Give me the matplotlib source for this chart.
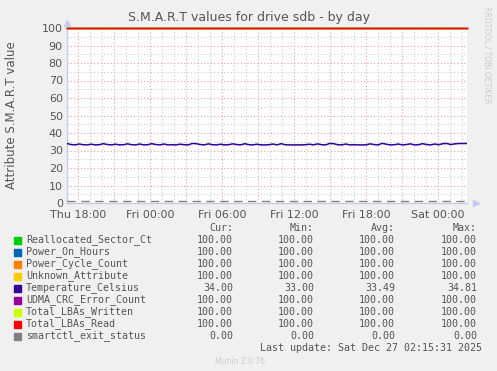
import numpy as np
import matplotlib
matplotlib.use("Agg")
import matplotlib.pyplot as plt

# Series names, colours and legend stats (cur, min, avg, max)
names = ["Reallocated_Sector_Ct", "Power_On_Hours", "Power_Cycle_Count",
         "Unknown_Attribute", "Temperature_Celsius", "UDMA_CRC_Error_Count",
         "Total_LBAs_Written", "Total_LBAs_Read", "smartctl_exit_status"]
colors = ["#00cc00", "#0066b3", "#ff8000", "#ffcc00", "#330099",
          "#990099", "#ccff00", "#ff0000", "#808080"]
cur = [100.00, 100.00, 100.00, 100.00, 34.00, 100.00, 100.00, 100.00, 0.00]
mins = [100.00, 100.00, 100.00, 100.00, 33.00, 100.00, 100.00, 100.00, 0.00]
avgs = [100.00, 100.00, 100.00, 100.00, 33.49, 100.00, 100.00, 100.00, 0.00]
maxs = [100.00, 100.00, 100.00, 100.00, 34.81, 100.00, 100.00, 100.00, 0.00]

# time in hours since Thu 00:00, 20 min steps
t_start = 17.08
t_end = 50.42
temperature = [
    34.0, 33.4, 33.2, 33.7, 33.3, 33.2, 33.6, 33.2, 33.3, 33.9,
    33.4, 33.2, 33.6, 33.2, 33.3, 33.8, 33.3, 33.2, 33.7, 33.2,
    33.3, 33.9, 33.4, 33.2, 33.7, 33.2, 33.3, 33.2, 33.6, 33.3,
    33.2, 34.0, 33.9, 33.4, 33.2, 33.8, 33.3, 33.2, 33.6, 33.2,
    33.3, 33.8, 33.4, 33.2, 33.9, 33.3, 33.2, 33.6, 33.2, 33.2,
    33.3, 33.7, 33.2, 33.9, 33.3, 33.2, 33.2, 33.2, 33.2, 33.3,
    33.6, 33.2, 33.8, 33.3, 33.2, 34.0, 33.9, 33.3, 33.2, 33.7,
    33.2, 33.3, 33.2, 33.2, 33.2, 33.8, 33.4, 33.2, 34.1, 33.6,
    33.2, 33.3, 33.7, 33.2, 33.4, 33.8, 33.2, 33.3, 33.9, 33.4,
    33.2, 33.7, 33.3, 33.9, 34.0, 33.4, 33.8, 34.0, 34.0, 34.0,
]
tick_pos = [18, 24, 30, 36, 42, 48]
tick_labels = ["Thu 18:00", "Fri 00:00", "Fri 06:00", "Fri 12:00", "Fri 18:00", "Sat 00:00"]

W, H = 497, 371
fig = plt.figure(figsize=(W / 100, H / 100), dpi=100)
fig.patch.set_facecolor("#f0f0f0")
ax = fig.add_axes([67 / W, (H - 203) / H, 400 / W, 175 / H])
ax.set_facecolor("white")

t = np.linspace(t_start, t_end, len(temperature))
for name, c, v in zip(names, colors, cur):
    if name == "Temperature_Celsius":
        ax.plot(t, temperature, color=c, lw=1.1, zorder=5)
    elif name == "smartctl_exit_status":
        ax.plot([t_start, t_end], [v + 0.9, v + 0.9], color=c, lw=1.0, ls=(0, (6, 4)), zorder=5)
    else:
        ax.plot([t_start, t_end], [v, v], color=c, lw=1.0, zorder=4, clip_on=False)

ax.set_xlim(t_start, t_end)
ax.set_ylim(0, 100)

# grid
for y in range(5, 100, 10):
    ax.axhline(y, color="#cccccc", lw=0.8, ls=(0, (1, 2)), zorder=1)
for y in range(10, 101, 10):
    ax.axhline(y, color="#eea0a0", lw=0.8, ls=(0, (1, 2)), zorder=2)
for h in range(18, 51):
    col = "#eea0a0" if h % 3 == 0 else "#cccccc"
    ax.axvline(h, color=col, lw=0.8, ls=(0, (1, 2)), zorder=2 if h % 3 == 0 else 1)

for s in ["top", "right"]:
    ax.spines[s].set_visible(False)
for s in ["left", "bottom"]:
    ax.spines[s].set_color("#c8c8e8")
    ax.spines[s].set_linewidth(1)
# axis arrows
ax.plot([1.0 + 0.022], [0], marker=">", color="#c8c8f8", ms=5, transform=ax.transAxes, clip_on=False)
ax.plot([0], [1.0 + 0.03], marker="^", color="#c8c8f8", ms=5, transform=ax.transAxes, clip_on=False)

ax.set_yticks(range(0, 101, 10))
ax.set_xticks(tick_pos)
ax.set_xticklabels(tick_labels)
ax.tick_params(axis="both", colors="#555555", labelsize=8, length=0, pad=3)
ax.tick_params(axis="x", pad=5)

fig.text(0.5, 1 - 18 / H, "S.M.A.R.T values for drive sdb - by day", ha="center", va="center",
         fontsize=9, color="#555555")
fig.text(12 / W, 1 - 115 / H, "Attribute S.M.A.R.T value", rotation=90, ha="center", va="center",
         fontsize=8.5, color="#555555")
fig.text(487 / W, 1 - 55 / H, "RRDTOOL / TOBI OETIKER", rotation=270, ha="center", va="center",
         fontsize=5.5, color="#cccccc")

# legend
mono = "DejaVu Sans Mono"
fs = 7.2
col_x = [233, 314, 395, 477]
y0 = 228
for x, head in zip(col_x, ["Cur:", "Min:", "Avg:", "Max:"]):
    fig.text(x / W, 1 - y0 / H, head, ha="right", va="center", family=mono, fontsize=fs, color="#555555")
for i, name in enumerate(names):
    yy = 1 - (240 + 12 * i) / H
    fig.patches.append(plt.Rectangle((14 / W, yy - 3.5 / H), 7 / W, 7 / H, color=colors[i],
                                     transform=fig.transFigure, figure=fig))
    fig.text(26 / W, yy, name, ha="left", va="center", family=mono, fontsize=fs, color="#555555")
    for x, v in zip(col_x, [cur[i], mins[i], avgs[i], maxs[i]]):
        fig.text(x / W, yy, f"{v:.2f}", ha="right", va="center", family=mono, fontsize=fs, color="#555555")
fig.text(482 / W, 1 - 348 / H, "Last update: Sat Dec 27 02:15:31 2025", ha="right", va="center",
         family=mono, fontsize=fs, color="#555555")
fig.text(240 / W, 1 - 361 / H, "Munin 2.0.76", ha="center", va="center", fontsize=5.5, color="#cccccc")

fig.savefig("out.png", dpi=100, facecolor=fig.get_facecolor())
